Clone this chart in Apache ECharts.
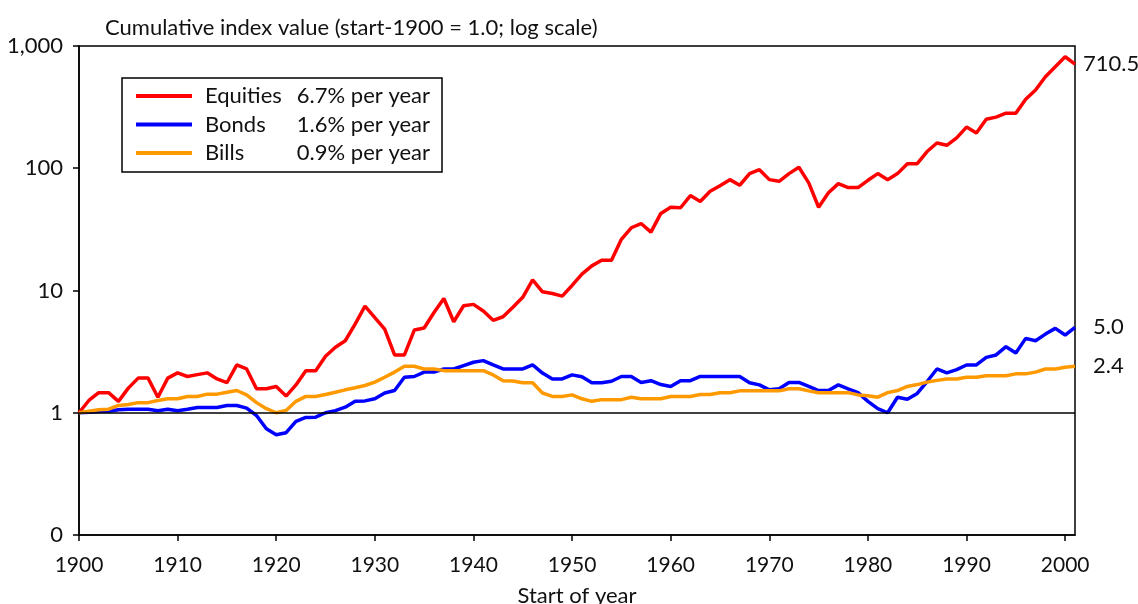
<!DOCTYPE html>
<html>
<head>
<meta charset="utf-8">
<script src="https://cdn.jsdelivr.net/npm/echarts@6/dist/echarts.min.js"></script>
<style>
  html, body { margin: 0; padding: 0; background: #fff; }
  #chart { width: 1138px; height: 604px; }
</style>
</head>
<body>
<div id="chart"></div>
<script>
const startYear = 1900;

// cumulative index values, start of each year 1900..2001
const equities = [
  1.0, 1.26, 1.46, 1.46, 1.24, 1.59, 1.92, 1.92, 1.34, 1.92,
  2.12, 1.98, 2.05, 2.12, 1.89, 1.76, 2.46, 2.28, 1.57, 1.57,
  1.64, 1.37, 1.69, 2.21, 2.21, 2.9, 3.43, 3.88, 5.3, 7.45,
  6.0, 4.84, 2.97, 2.97, 4.75, 4.93, 6.6, 8.6, 5.55, 7.5,
  7.7, 6.8, 5.7, 6.1, 7.3, 8.8, 12.2, 9.75, 9.45, 9.0,
  11.0, 13.6, 15.9, 17.7, 17.7, 26.2, 32.6, 35.3, 30, 42.7,
  48, 47.5, 59.8, 53.5, 64.8, 72, 80.7, 72.6, 90.4, 97.4,
  80.7, 78.2, 90.4, 101.8, 75.9, 48, 63, 74.9, 69.5, 69.5,
  79.7, 90.4, 80.7, 90.4, 109, 109, 137, 161, 154, 177,
  217, 194, 252, 262, 282, 282, 367, 437, 561, 677,
  817, 710.5
];
const bonds = [
  1.0, 1.01, 1.025, 1.03, 1.06, 1.07, 1.07, 1.07, 1.04, 1.07,
  1.04, 1.07, 1.105, 1.105, 1.105, 1.147, 1.147, 1.09, 0.95, 0.74,
  0.66, 0.687, 0.85, 0.916, 0.92, 1.0, 1.04, 1.11, 1.24, 1.25,
  1.30, 1.45, 1.52, 1.95, 1.98, 2.15, 2.15, 2.28, 2.28, 2.43,
  2.59, 2.67, 2.46, 2.28, 2.28, 2.28, 2.46, 2.11, 1.89, 1.89,
  2.04, 1.97, 1.76, 1.76, 1.81, 1.98, 1.98, 1.77, 1.83, 1.70,
  1.64, 1.83, 1.83, 1.98, 1.98, 1.98, 1.98, 1.98, 1.76, 1.69,
  1.54, 1.57, 1.77, 1.77, 1.64, 1.52, 1.52, 1.69, 1.57, 1.46,
  1.24, 1.08, 1.0, 1.34, 1.29, 1.44, 1.8, 2.28, 2.12, 2.25,
  2.46, 2.46, 2.84, 2.97, 3.47, 3.08, 4.06, 3.88, 4.4, 4.9,
  4.32, 5.0
];
const bills = [
  1.0, 1.03, 1.06, 1.07, 1.147, 1.17, 1.21, 1.21, 1.26, 1.30,
  1.30, 1.36, 1.36, 1.42, 1.42, 1.47, 1.52, 1.40, 1.21, 1.08,
  1.0, 1.045, 1.24, 1.36, 1.36, 1.41, 1.47, 1.54, 1.60, 1.67,
  1.78, 1.95, 2.15, 2.40, 2.40, 2.28, 2.28, 2.21, 2.21, 2.21,
  2.21, 2.21, 2.04, 1.83, 1.82, 1.76, 1.76, 1.45, 1.36, 1.36,
  1.40, 1.30, 1.24, 1.28, 1.28, 1.28, 1.34, 1.30, 1.30, 1.30,
  1.36, 1.36, 1.36, 1.41, 1.41, 1.46, 1.46, 1.51, 1.51, 1.51,
  1.51, 1.51, 1.57, 1.57, 1.51, 1.46, 1.46, 1.46, 1.46, 1.40,
  1.38, 1.34, 1.46, 1.52, 1.64, 1.70, 1.78, 1.84, 1.89, 1.89,
  1.95, 1.95, 2.01, 2.01, 2.01, 2.08, 2.08, 2.15, 2.28, 2.28,
  2.36, 2.4
];

const seriesNames = ['Equities', 'Bonds', 'Bills'];
const growthRates = ['6.7% per year', '1.6% per year', '0.9% per year'];
const endValues = ['710.5', '5.0', '2.4'];
const xTickLabels = [1900, 1910, 1920, 1930, 1940, 1950, 1960, 1970, 1980, 1990, 2000];

const FONT = 'Lato';
const INK = '#111';

// legend box placement (pixels)
const LEGEND_BOX = { x: 122, y: 78, width: 320, height: 94 };
const LEGEND_ROW_TOP = 85;
const LEGEND_ROW_STEP = 28.5;

function toPairs(values) {
  return values.map((v, i) => [startYear + i, v]);
}

function makeSeries(name, values, color, endLabel, offsetX) {
  return {
    name: name,
    type: 'line',
    data: toPairs(values),
    showSymbol: false,
    symbol: 'none',
    color: color,
    lineStyle: { color: color, width: 3.5 },
    z: 3,
    endLabel: {
      show: true,
      formatter: endLabel,
      distance: 8,
      offset: [offsetX, 0],
      fontFamily: FONT,
      fontSize: 22,
      color: INK
    },
    animation: false
  };
}

const chart = echarts.init(document.getElementById('chart'));

const series = [
  makeSeries(seriesNames[0], equities, '#ff0000', endValues[0], 0),
  makeSeries(seriesNames[1], bonds, '#0000ff', endValues[1], 10),
  makeSeries(seriesNames[2], bills, '#ff9900', endValues[2], 10)
];
// baseline at 1.0
series[0].markLine = {
  silent: true,
  symbol: 'none',
  label: { show: false },
  lineStyle: { color: '#000', width: 1.5, type: 'solid' },
  data: [{ yAxis: 1 }],
  animation: false
};

// box round the legend and the growth-rate column
const legendGraphics = [{
  type: 'rect',
  shape: LEGEND_BOX,
  style: { fill: '#fff', stroke: '#000', lineWidth: 1.5 },
  z: 5,
  silent: true
}].concat(growthRates.map((txt, i) => ({
  type: 'text',
  x: LEGEND_BOX.x + LEGEND_BOX.width - 12,
  y: LEGEND_ROW_TOP + 11 + i * LEGEND_ROW_STEP,
  z: 6,
  silent: true,
  style: {
    text: txt,
    fontFamily: FONT,
    fontSize: 22,
    fill: INK,
    align: 'right',
    verticalAlign: 'middle'
  }
})));

chart.setOption({
  animation: false,
  backgroundColor: '#fff',
  textStyle: { fontFamily: FONT },
  title: {
    text: 'Cumulative index value (start-1900 = 1.0; log scale)',
    left: 100,
    top: 12,
    textStyle: { fontFamily: FONT, fontSize: 22, fontWeight: 'normal', color: INK }
  },
  legend: {
    orient: 'vertical',
    left: 136,
    top: LEGEND_ROW_TOP,
    padding: 0,
    itemGap: 6.5,
    itemWidth: 56,
    itemHeight: 4,
    icon: 'rect',
    z: 7,
    data: seriesNames,
    textStyle: {
      fontFamily: FONT,
      fontSize: 22,
      color: INK,
      padding: [0, 0, 0, 8]
    }
  },
  graphic: legendGraphics,
  grid: {
    left: 79,
    right: 63,
    top: 46,
    bottom: 69,
    show: true,
    borderColor: '#000',
    borderWidth: 1.5,
    containLabel: false,
    outerBoundsMode: 'none'
  },
  xAxis: {
    type: 'value',
    min: 1900,
    max: 2001,
    interval: 10,
    name: 'Start of year',
    nameLocation: 'middle',
    nameGap: 50,
    nameTextStyle: { fontFamily: FONT, fontSize: 22, color: INK },
    axisLine: { show: true, onZero: false, lineStyle: { color: '#000', width: 1.5 } },
    axisTick: { show: true, length: 6, customValues: xTickLabels, lineStyle: { color: '#000', width: 1.5 } },
    axisLabel: {
      customValues: xTickLabels,
      margin: 20,
      fontFamily: FONT,
      fontSize: 21,
      color: INK,
      formatter: v => String(v)
    },
    splitLine: { show: false }
  },
  yAxis: {
    type: 'log',
    logBase: 10,
    min: 0.1,
    max: 1000,
    axisLine: { show: true, lineStyle: { color: '#000', width: 1.5 } },
    axisTick: { show: true, length: 6, lineStyle: { color: '#000', width: 1.5 } },
    axisLabel: {
      margin: 16,
      fontFamily: FONT,
      fontSize: 22,
      color: INK,
      formatter: v => (v < 1 ? '0' : Math.round(v).toLocaleString('en-US'))
    },
    splitLine: { show: false }
  },
  series: series
});
</script>
</body>
</html>
